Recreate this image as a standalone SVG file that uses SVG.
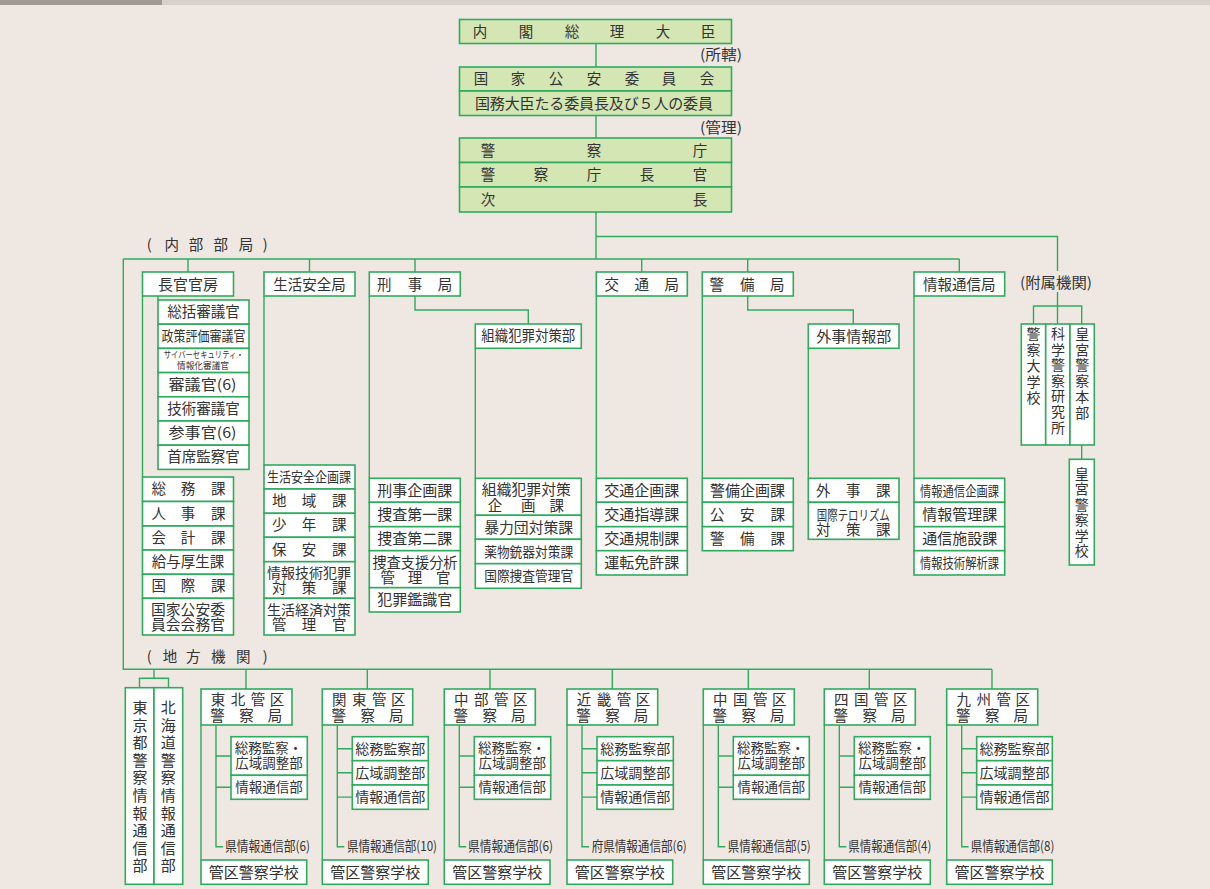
<svg xmlns="http://www.w3.org/2000/svg" width="1210" height="889" viewBox="0 0 1210 889">
<style>
.b{fill:#fff;stroke:#2faa5e;stroke-width:1.6}
.g{fill:#d4e6b4;stroke:#2faa5e;stroke-width:1.6}
.ln{fill:none;stroke:#2faa5e;stroke-width:1.4}
text{font-family:"Noto Sans CJK JP","Noto Sans CJK SC",sans-serif;fill:#333;font-size:14.5px;text-anchor:middle}
.s15{font-size:15px}
.s14{font-size:14px}
.s13{font-size:13.5px}
.s9{font-size:9px}
</style>
<rect x="0" y="0" width="1210" height="889" fill="#efe8e2"/>
<rect x="0" y="0" width="1210" height="5" fill="#d8d0ca"/>
<rect x="0" y="0" width="162" height="5" fill="#a19a94"/>

<g id="connectors" class="ln">
<path d="M596,44V67M596,115.5V138M596,212V259M596,236.5H1057.5V271M1057.5,292V324M1033.5,324V306H1081.7V324"/>
<path d="M123.3,259H959.3M188,259V272M309.5,259V272M415,259V272M641.7,259V272M747.7,259V272M959.3,259V272"/>
<path d="M123.3,259V669.3H992M246,669.3V689M367.3,669.3V689M490,669.3V689M612.3,669.3V689M748.3,669.3V689M869.3,669.3V689M992,669.3V689"/>
<path d="M154,669.3V678.3M139.5,687.7V678.3H168.5V687.7"/>
<path d="M415,296V310H528.3V324M747.7,296V310H853.3V324"/>
<path d="M158,296V300M142.5,296V477M264,296V465M369.3,296V478.3M475.3,348.3V478.3M596.3,296V478.3M702.3,296V478.3M808.3,348.3V478.3M914,296V478.3M1081.7,445V459.3"/>
<path d="M201,725V860M216,725V846.7H223M216,756H231M216,787.3H231"/>
<path d="M322.3,725V860M337.3,725V846.7H344.3M337.3,748.7H352.3M337.3,772.8H352.3M337.3,797.1H352.3"/>
<path d="M444.3,725V860M459.3,725V846.7H466.3M459.3,756H474.3M459.3,787.3H474.3"/>
<path d="M567,725V860M582,725V846.7H589M582,748.7H597M582,772.8H597M582,797.1H597"/>
<path d="M703.3,725V860M718.3,725V846.7H725.3M718.3,756H733.3M718.3,787.3H733.3"/>
<path d="M824.3,725V860M839.3,725V846.7H846.3M839.3,756H854.3M839.3,787.3H854.3"/>
<path d="M946.7,725V860M961.7,725V846.7H968.7M961.7,748.7H976.7M961.7,772.8H976.7M961.7,797.1H976.7"/>
</g>

<g id="n-pm"><rect class="g" x="459.5" y="19.5" width="272" height="24"/><text x="480 526 572 617 663 708" y="36.5">内閣総理大臣</text></g>
<text x="721" y="59.5" textLength="42" lengthAdjust="spacingAndGlyphs">(所轄)</text>
<g id="n-npsc"><rect class="g" x="459.5" y="67" width="272" height="24"/><rect class="g" x="459.5" y="91" width="272" height="24.5"/>
<text x="481 518 556 594 632 669 707" y="84">国家公安委員会</text>
<text class="s15" x="594" y="108.5" textLength="238" lengthAdjust="spacing">国務大臣たる委員長及び５人の委員</text></g>
<text x="721" y="132.5" textLength="42" lengthAdjust="spacingAndGlyphs">(管理)</text>
<g id="n-npa"><rect class="g" x="459.5" y="138" width="272" height="24.5"/><rect class="g" x="459.5" y="162.5" width="272" height="24.5"/><rect class="g" x="459.5" y="187" width="272" height="25"/>
<text x="488 594 700" y="155.5">警察庁</text>
<text x="488 541 594 647 700" y="180">警察庁長官</text>
<text x="488 700" y="204.5">次長</text></g>

<text x="149.3 171.7 196 220.7 246 265.3" y="250">(内部部局)</text>

<g id="n-kanbo"><rect class="b" x="142.5" y="272" width="91" height="24"/><text class="s15" x="188" y="289.5">長官官房</text>
<rect class="b" x="158" y="300" width="91" height="24.2"/><text x="203.5" y="317">総括審議官</text>
<rect class="b" x="158" y="324.2" width="91" height="24.2"/><text class="s14" x="203.5" y="341.3" textLength="84" lengthAdjust="spacingAndGlyphs">政策評価審議官</text>
<rect class="b" x="158" y="348.4" width="91" height="24.2"/><text class="s9" x="203.7" y="358.3" textLength="80" lengthAdjust="spacingAndGlyphs">サイバーセキュリティ・</text><text class="s9" x="203" y="369" textLength="52" lengthAdjust="spacingAndGlyphs">情報化審議官</text>
<rect class="b" x="158" y="372.6" width="91" height="24.2"/><text x="202.5" y="389.8" textLength="68" lengthAdjust="spacingAndGlyphs">審議官(6)</text>
<rect class="b" x="158" y="396.8" width="91" height="24.2"/><text x="203.5" y="414">技術審議官</text>
<rect class="b" x="158" y="421" width="91" height="24.2"/><text x="202.5" y="438.2" textLength="68" lengthAdjust="spacingAndGlyphs">参事官(6)</text>
<rect class="b" x="158" y="445.2" width="91" height="24.2"/><text x="203.5" y="462.4">首席監察官</text>
<rect class="b" x="142.5" y="477" width="91" height="24.5"/><text x="158.7 188 218.3" y="494.3">総務課</text>
<rect class="b" x="142.5" y="501.5" width="91" height="24.5"/><text x="158.7 188 218.3" y="518.8">人事課</text>
<rect class="b" x="142.5" y="526" width="91" height="24"/><text x="158.7 188 218.3" y="543">会計課</text>
<rect class="b" x="142.5" y="550" width="91" height="24.3"/><text x="188" y="567.3">給与厚生課</text>
<rect class="b" x="142.5" y="574.3" width="91" height="24"/><text x="158.7 188 218.3" y="591.3">国際課</text>
<rect class="b" x="142.5" y="598.3" width="91" height="36.7"/><text x="188" y="615" textLength="74" lengthAdjust="spacingAndGlyphs">国家公安委</text><text x="188" y="630" textLength="74" lengthAdjust="spacingAndGlyphs">員会会務官</text></g>

<g id="n-seian"><rect class="b" x="264" y="272" width="91" height="24"/><text x="309.5" y="289.5">生活安全局</text>
<rect class="b" x="264" y="465" width="91" height="24"/><text class="s14" x="309" y="482" textLength="84" lengthAdjust="spacingAndGlyphs">生活安全企画課</text>
<rect class="b" x="264" y="489" width="91" height="24.3"/><text x="279.3 309 339.3" y="506.2">地域課</text>
<rect class="b" x="264" y="513.3" width="91" height="24"/><text x="279.3 309 339.3" y="530.3">少年課</text>
<rect class="b" x="264" y="537.3" width="91" height="24.4"/><text x="279.3 309 339.3" y="554.5">保安課</text>
<rect class="b" x="264" y="561.7" width="91" height="36.6"/><text class="s14" x="309" y="578.3" textLength="84" lengthAdjust="spacingAndGlyphs">情報技術犯罪</text><text x="279.3 309 339.3" y="592.7">対策課</text>
<rect class="b" x="264" y="598.3" width="91" height="36.7"/><text class="s14" x="309" y="615" textLength="84" lengthAdjust="spacingAndGlyphs">生活経済対策</text><text x="279.3 309 339.3" y="630">管理官</text></g>

<g id="n-keiji"><rect class="b" x="369.3" y="272" width="91" height="24"/><text x="384.3 415 445" y="289.5">刑事局</text>
<rect class="b" x="369.3" y="478.3" width="91" height="24"/><text class="s15" x="414.8" y="495.8">刑事企画課</text>
<rect class="b" x="369.3" y="502.3" width="91" height="24.4"/><text class="s15" x="414.8" y="520">捜査第一課</text>
<rect class="b" x="369.3" y="526.7" width="91" height="24"/><text class="s15" x="414.8" y="544.2">捜査第二課</text>
<rect class="b" x="369.3" y="550.7" width="91" height="37"/><text x="415" y="567.7" textLength="85" lengthAdjust="spacingAndGlyphs">捜査支援分析</text><text x="387.7 415 443.3" y="582.7">管理官</text>
<rect class="b" x="369.3" y="587.7" width="91" height="24.3"/><text class="s15" x="414.8" y="605.3">犯罪鑑識官</text></g>

<g id="n-sosiki"><rect class="b" x="475.3" y="324" width="106" height="24.3"/><text x="528.3" y="341.3" textLength="94" lengthAdjust="spacingAndGlyphs">組織犯罪対策部</text>
<rect class="b" x="475.3" y="478.3" width="106" height="37"/><text x="526.3" y="495" textLength="89" lengthAdjust="spacingAndGlyphs">組織犯罪対策</text><text x="495 528.3 556.7" y="510.7">企画課</text>
<rect class="b" x="475.3" y="515.3" width="106" height="24"/><text x="528.7" y="532.5" textLength="89" lengthAdjust="spacingAndGlyphs">暴力団対策課</text>
<rect class="b" x="475.3" y="539.3" width="106" height="24.4"/><text class="s14" x="528.7" y="556.6" textLength="89" lengthAdjust="spacingAndGlyphs">薬物銃器対策課</text>
<rect class="b" x="475.3" y="563.7" width="106" height="24.6"/><text class="s14" x="528.7" y="581" textLength="89" lengthAdjust="spacingAndGlyphs">国際捜査管理官</text></g>

<g id="n-kotsu"><rect class="b" x="596.3" y="272" width="91" height="24"/><text x="611.7 641.7 671.7" y="289.5">交通局</text>
<rect class="b" x="596.3" y="478.3" width="91" height="24"/><text class="s15" x="641.8" y="495.8">交通企画課</text>
<rect class="b" x="596.3" y="502.3" width="91" height="24.4"/><text class="s15" x="641.8" y="520">交通指導課</text>
<rect class="b" x="596.3" y="526.7" width="91" height="24"/><text class="s15" x="641.8" y="544.2">交通規制課</text>
<rect class="b" x="596.3" y="550.7" width="91" height="24.3"/><text class="s15" x="641.8" y="568.3">運転免許課</text></g>

<g id="n-keibi"><rect class="b" x="702.3" y="272" width="91" height="24"/><text x="716.7 747.3 777.3" y="289.5">警備局</text>
<rect class="b" x="702.3" y="478.3" width="91" height="24"/><text class="s15" x="747.5" y="495.8">警備企画課</text>
<rect class="b" x="702.3" y="502.3" width="91" height="24.4"/><text x="717.3 747.3 777.7" y="520">公安課</text>
<rect class="b" x="702.3" y="526.7" width="91" height="24"/><text x="717.3 747.3 777.7" y="544.2">警備課</text></g>

<g id="n-gaiji"><rect class="b" x="808.3" y="324" width="90.7" height="24.3"/><text class="s15" x="853.7" y="341.5">外事情報部</text>
<rect class="b" x="808.3" y="478.3" width="90.7" height="24"/><text x="823.3 853.3 883.3" y="495.8">外事課</text>
<rect class="b" x="808.3" y="502.3" width="90.7" height="37"/><text class="s13" x="853.3" y="519.8" textLength="73" lengthAdjust="spacingAndGlyphs">国際テロリズム</text><text x="823.3 853.3 883.3" y="534.5">対策課</text></g>

<g id="n-joho"><rect class="b" x="914" y="272" width="90.7" height="24"/><text x="959.3" y="289.5">情報通信局</text>
<rect class="b" x="914" y="478.3" width="90.7" height="24"/><text class="s14" x="959.5" y="495.6" textLength="79" lengthAdjust="spacingAndGlyphs">情報通信企画課</text>
<rect class="b" x="914" y="502.3" width="90.7" height="24.4"/><text class="s15" x="959.7" y="520">情報管理課</text>
<rect class="b" x="914" y="526.7" width="90.7" height="24"/><text class="s15" x="959.7" y="544.2">通信施設課</text>
<rect class="b" x="914" y="550.7" width="90.7" height="24.3"/><text class="s14" x="959.5" y="568" textLength="79" lengthAdjust="spacingAndGlyphs">情報技術解析課</text></g>

<g id="n-fuzoku"><text x="1056" y="288" textLength="72" lengthAdjust="spacingAndGlyphs">(附属機関)</text>
<rect class="b" x="1021.3" y="324" width="24.4" height="121"/><text class="s14" x="1033.5 1033.5 1033.5 1033.5 1033.5" y="339 354.9 370.8 386.7 402.6">警察大学校</text>
<rect class="b" x="1045.7" y="324" width="24.3" height="121"/><text class="s14" x="1057.9 1057.9 1057.9 1057.9 1057.9 1057.9 1057.9" y="339 354.6 370.2 385.8 401.4 417 432.6">科学警察研究所</text>
<rect class="b" x="1070" y="324" width="24.3" height="121"/><text class="s14" x="1082.2 1082.2 1082.2 1082.2 1082.2 1082.2" y="339 354.7 370.4 386.1 401.8 417.5">皇宮警察本部</text>
<rect class="b" x="1069.3" y="459.3" width="25" height="105.7"/><text class="s14" x="1081.8 1081.8 1081.8 1081.8 1081.8 1081.8" y="479 494.4 509.8 525.2 540.6 556">皇宮警察学校</text></g>

<text x="149.3 170 193.3 218.3 243.3 265.3" y="661.7">(地方機関)</text>

<g id="n-tokyo"><rect class="b" x="125.3" y="687.7" width="28.7" height="196.6"/><text class="s15" x="140 140 140 140 140 140 140 140 140 140" y="713 730.6 748.2 765.8 783.4 801 818.6 836.2 853.8 871.4">東京都警察情報通信部</text></g>
<g id="n-hokkaido"><rect class="b" x="154" y="687.7" width="28.7" height="196.6"/><text class="s15" x="168.3 168.3 168.3 168.3 168.3 168.3 168.3 168.3 168.3 168.3" y="713 730.6 748.2 765.8 783.4 801 818.6 836.2 853.8 871.4">北海道警察情報通信部</text></g>

<g id="n-tohoku"><rect class="b" x="201" y="689" width="91" height="36"/><text x="218 238 258 277" y="705">東北管区</text><text x="217.5 246.5 275" y="721">警察局</text>
<rect class="b" x="231" y="736.7" width="76.3" height="38.6"/><text class="s13" x="268.5" y="753.3">総務監察・</text><text class="s13" x="269" y="768.3">広域調整部</text>
<rect class="b" x="231" y="775.3" width="76.3" height="24"/><text class="s13" x="269" y="792.3">情報通信部</text>
<text class="s13" x="225" y="851.3" textLength="85" lengthAdjust="spacingAndGlyphs" style="text-anchor:start">県情報通信部(6)</text>
<rect class="b" x="201" y="860" width="105.7" height="24.3"/><text class="s15" x="253.8" y="877.5">管区警察学校</text></g>

<g id="n-kanto"><rect class="b" x="322.3" y="689" width="90.4" height="36"/><text x="339.3 359.3 379.3 398.3" y="705">関東管区</text><text x="338.8 367.8 396.3" y="721">警察局</text>
<rect class="b" x="352.3" y="736.7" width="76" height="24"/><text class="s14" x="390.3" y="753.7">総務監察部</text>
<rect class="b" x="352.3" y="760.7" width="76" height="24.3"/><text class="s14" x="390.3" y="777.8">広域調整部</text>
<rect class="b" x="352.3" y="785" width="76" height="24.3"/><text class="s14" x="390.3" y="802.1">情報通信部</text>
<text class="s13" x="347" y="851.3" textLength="90" lengthAdjust="spacingAndGlyphs" style="text-anchor:start">県情報通信部(10)</text>
<rect class="b" x="322.3" y="860" width="106" height="24.3"/><text class="s15" x="375.3" y="877.5">管区警察学校</text></g>

<g id="n-chubu"><rect class="b" x="444.3" y="689" width="91" height="36"/><text x="461.3 481.3 501.3 520.3" y="705">中部管区</text><text x="460.8 489.8 518.3" y="721">警察局</text>
<rect class="b" x="474.3" y="736.7" width="76.4" height="38.6"/><text class="s13" x="511.8" y="753.3">総務監察・</text><text class="s13" x="512.3" y="768.3">広域調整部</text>
<rect class="b" x="474.3" y="775.3" width="76.4" height="24"/><text class="s13" x="512.3" y="792.3">情報通信部</text>
<text class="s13" x="468" y="851.3" textLength="85" lengthAdjust="spacingAndGlyphs" style="text-anchor:start">県情報通信部(6)</text>
<rect class="b" x="444.3" y="860" width="105.7" height="24.3"/><text class="s15" x="497.2" y="877.5">管区警察学校</text></g>

<g id="n-kinki"><rect class="b" x="567" y="689" width="90.7" height="36"/><text x="584 604 624 643" y="705">近畿管区</text><text x="583.5 612.5 641" y="721">警察局</text>
<rect class="b" x="597" y="736.7" width="76.3" height="24"/><text class="s14" x="635.2" y="753.7">総務監察部</text>
<rect class="b" x="597" y="760.7" width="76.3" height="24.3"/><text class="s14" x="635.2" y="777.8">広域調整部</text>
<rect class="b" x="597" y="785" width="76.3" height="24.3"/><text class="s14" x="635.2" y="802.1">情報通信部</text>
<text class="s13" x="591.7" y="851.3" textLength="95" lengthAdjust="spacingAndGlyphs" style="text-anchor:start">府県情報通信部(6)</text>
<rect class="b" x="567" y="860" width="105.7" height="24.3"/><text class="s15" x="619.8" y="877.5">管区警察学校</text></g>

<g id="n-chugoku"><rect class="b" x="703.3" y="689" width="91" height="36"/><text x="720.3 740.3 760.3 779.3" y="705">中国管区</text><text x="719.8 748.8 777.3" y="721">警察局</text>
<rect class="b" x="733.3" y="736.7" width="76" height="38.6"/><text class="s13" x="770.8" y="753.3">総務監察・</text><text class="s13" x="771.3" y="768.3">広域調整部</text>
<rect class="b" x="733.3" y="775.3" width="76" height="24"/><text class="s13" x="771.3" y="792.3">情報通信部</text>
<text class="s13" x="727.7" y="851.3" textLength="83" lengthAdjust="spacingAndGlyphs" style="text-anchor:start">県情報通信部(5)</text>
<rect class="b" x="703.3" y="860" width="106" height="24.3"/><text class="s15" x="756.3" y="877.5">管区警察学校</text></g>

<g id="n-shikoku"><rect class="b" x="824.3" y="689" width="91" height="36"/><text x="841.3 861.3 881.3 900.3" y="705">四国管区</text><text x="840.8 869.8 898.3" y="721">警察局</text>
<rect class="b" x="854.3" y="736.7" width="76" height="38.6"/><text class="s13" x="891.8" y="753.3">総務監察・</text><text class="s13" x="892.3" y="768.3">広域調整部</text>
<rect class="b" x="854.3" y="775.3" width="76" height="24"/><text class="s13" x="892.3" y="792.3">情報通信部</text>
<text class="s13" x="848.3" y="851.3" textLength="83" lengthAdjust="spacingAndGlyphs" style="text-anchor:start">県情報通信部(4)</text>
<rect class="b" x="824.3" y="860" width="106" height="24.3"/><text class="s15" x="877.3" y="877.5">管区警察学校</text></g>

<g id="n-kyushu"><rect class="b" x="946.7" y="689" width="91" height="36"/><text x="963.7 983.7 1003.7 1022.7" y="705">九州管区</text><text x="963.2 992.2 1020.7" y="721">警察局</text>
<rect class="b" x="976.7" y="736.7" width="75.6" height="24"/><text class="s14" x="1014.5" y="753.7">総務監察部</text>
<rect class="b" x="976.7" y="760.7" width="75.6" height="24.3"/><text class="s14" x="1014.5" y="777.8">広域調整部</text>
<rect class="b" x="976.7" y="785" width="75.6" height="24.3"/><text class="s14" x="1014.5" y="802.1">情報通信部</text>
<text class="s13" x="970.7" y="851.3" textLength="83.6" lengthAdjust="spacingAndGlyphs" style="text-anchor:start">県情報通信部(8)</text>
<rect class="b" x="946.7" y="860" width="105.6" height="24.3"/><text class="s15" x="999.5" y="877.5">管区警察学校</text></g>
</svg>
